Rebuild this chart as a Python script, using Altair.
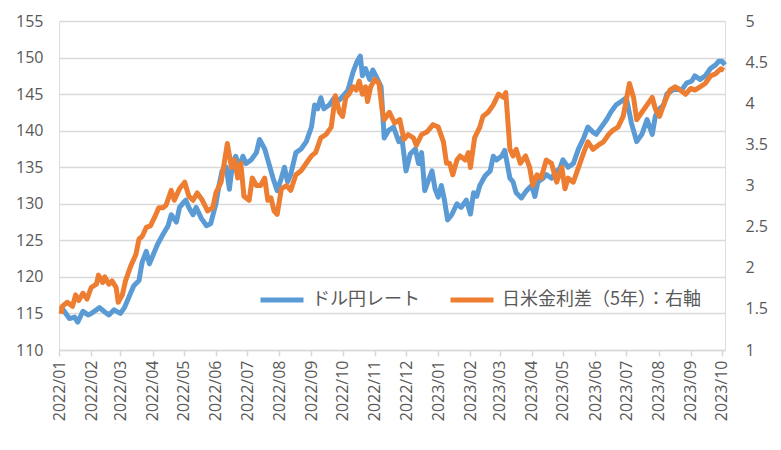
import altair as alt
import pandas as pd

series_names = ["ドル円レート", "日米金利差（5年）：右軸"]

usd_dates = [
    "2022-01-03", "2022-01-05", "2022-01-11", "2022-01-16", "2022-01-19", "2022-01-24", "2022-01-29",
    "2022-02-01", "2022-02-09", "2022-02-14", "2022-02-18", "2022-02-23", "2022-03-01", "2022-03-05",
    "2022-03-10", "2022-03-14", "2022-03-19", "2022-03-22", "2022-03-26", "2022-03-29", "2022-04-01",
    "2022-04-06", "2022-04-11", "2022-04-16", "2022-04-19", "2022-04-24", "2022-04-27", "2022-05-01",
    "2022-05-03", "2022-05-06", "2022-05-10", "2022-05-13", "2022-05-18", "2022-05-23", "2022-05-27",
    "2022-06-01", "2022-06-04", "2022-06-07", "2022-06-11", "2022-06-14", "2022-06-17", "2022-06-20",
    "2022-06-24", "2022-06-27", "2022-06-30", "2022-07-05", "2022-07-10", "2022-07-13", "2022-07-18",
    "2022-07-21", "2022-07-26", "2022-07-30", "2022-08-03", "2022-08-06", "2022-08-09", "2022-08-12",
    "2022-08-17", "2022-08-22", "2022-08-27", "2022-09-01", "2022-09-04", "2022-09-07", "2022-09-10",
    "2022-09-13", "2022-09-18", "2022-09-23", "2022-09-28", "2022-10-01", "2022-10-06", "2022-10-11",
    "2022-10-15", "2022-10-18", "2022-10-20", "2022-10-23", "2022-10-27", "2022-10-30", "2022-11-02",
    "2022-11-07", "2022-11-10", "2022-11-14", "2022-11-19", "2022-11-24", "2022-11-27", "2022-12-01",
    "2022-12-05", "2022-12-10", "2022-12-13", "2022-12-16", "2022-12-19", "2022-12-22", "2022-12-26",
    "2022-12-29", "2023-01-01", "2023-01-04", "2023-01-07", "2023-01-10", "2023-01-14", "2023-01-19",
    "2023-01-23", "2023-01-28", "2023-02-01", "2023-02-04", "2023-02-07", "2023-02-10", "2023-02-15",
    "2023-02-20", "2023-02-23", "2023-02-26", "2023-03-03", "2023-03-06", "2023-03-11", "2023-03-14",
    "2023-03-17", "2023-03-22", "2023-03-27", "2023-04-01", "2023-04-04", "2023-04-07", "2023-04-12",
    "2023-04-15", "2023-04-20", "2023-04-25", "2023-04-28", "2023-05-01", "2023-05-06", "2023-05-11",
    "2023-05-16", "2023-05-21", "2023-05-25", "2023-05-30", "2023-06-02", "2023-06-07", "2023-06-12",
    "2023-06-16", "2023-06-21", "2023-06-26", "2023-07-01", "2023-07-06", "2023-07-11", "2023-07-16",
    "2023-07-21", "2023-07-26", "2023-07-29", "2023-08-02", "2023-08-06", "2023-08-09", "2023-08-14",
    "2023-08-19", "2023-08-23", "2023-08-28", "2023-09-02", "2023-09-05", "2023-09-10", "2023-09-15",
    "2023-09-20", "2023-09-25", "2023-09-28", "2023-10-01", "2023-10-04",
]
usd_values = [
    116.0, 115.5, 114.3, 114.5, 113.8, 115.3, 114.8,
    115.0, 115.8, 115.2, 114.8, 115.5, 115.0, 115.8,
    117.5, 118.8, 119.5, 122.0, 123.5, 121.8, 122.8,
    124.5, 125.8, 127.0, 128.5, 127.5, 129.5, 130.2,
    130.5, 129.5, 128.5, 129.5, 128.0, 127.0, 127.3,
    130.0, 132.5, 134.5, 135.0, 132.0, 135.5, 136.5,
    135.0, 136.5, 135.5, 136.0, 137.0, 138.8, 137.5,
    136.0, 133.5, 131.8, 133.5, 135.0, 133.0, 134.0,
    137.0, 137.5, 138.5, 140.5, 143.5, 143.0, 144.5,
    143.0, 143.5, 144.5, 144.2, 144.7, 145.5, 148.0,
    149.5, 150.2, 147.5, 148.5, 147.0, 148.3, 147.5,
    146.0, 139.0, 140.0, 140.5, 138.5, 139.0, 134.5,
    136.8, 137.5, 135.5, 137.0, 131.8, 133.0, 134.5,
    132.0, 130.9, 132.5, 130.5, 127.8, 128.5, 130.0,
    129.5, 130.5, 128.6, 131.5, 131.0, 132.5, 133.8,
    134.5, 136.5, 136.0, 136.5, 137.3, 133.5, 133.0,
    131.5, 130.8, 131.8, 132.5, 131.0, 133.0, 133.5,
    134.0, 133.5, 134.5, 134.8, 136.0, 135.0, 135.5,
    137.5, 139.0, 140.5, 139.8, 139.5, 140.5, 141.5,
    142.5, 143.5, 144.0, 144.5, 141.0, 138.5, 139.5,
    141.5, 139.5, 142.0, 143.0, 143.5, 145.0, 145.5,
    145.8, 145.5, 146.5, 146.8, 147.5, 147.0, 147.5,
    148.5, 149.0, 149.5, 149.5, 149.0,
]

spread_dates = [
    "2022-01-03", "2022-01-04", "2022-01-09", "2022-01-14", "2022-01-17", "2022-01-20", "2022-01-24",
    "2022-01-28", "2022-02-01", "2022-02-06", "2022-02-08", "2022-02-12", "2022-02-14", "2022-02-18",
    "2022-02-21", "2022-02-25", "2022-02-27", "2022-03-03", "2022-03-06", "2022-03-11", "2022-03-16",
    "2022-03-19", "2022-03-22", "2022-03-26", "2022-03-30", "2022-04-04", "2022-04-07", "2022-04-11",
    "2022-04-14", "2022-04-19", "2022-04-22", "2022-04-27", "2022-05-02", "2022-05-06", "2022-05-10",
    "2022-05-14", "2022-05-19", "2022-05-24", "2022-05-29", "2022-06-01", "2022-06-06", "2022-06-09",
    "2022-06-12", "2022-06-16", "2022-06-19", "2022-06-22", "2022-06-25", "2022-06-28", "2022-07-03",
    "2022-07-06", "2022-07-10", "2022-07-14", "2022-07-18", "2022-07-21", "2022-07-24", "2022-07-27",
    "2022-07-30", "2022-08-03", "2022-08-08", "2022-08-12", "2022-08-17", "2022-08-22", "2022-08-27",
    "2022-09-01", "2022-09-05", "2022-09-10", "2022-09-15", "2022-09-20", "2022-09-24", "2022-09-28",
    "2022-10-01", "2022-10-04", "2022-10-07", "2022-10-11", "2022-10-14", "2022-10-17", "2022-10-20",
    "2022-10-23", "2022-10-25", "2022-10-28", "2022-11-01", "2022-11-05", "2022-11-08", "2022-11-10",
    "2022-11-15", "2022-11-20", "2022-11-25", "2022-11-29", "2022-12-03", "2022-12-08", "2022-12-11",
    "2022-12-16", "2022-12-21", "2022-12-27", "2023-01-01", "2023-01-06", "2023-01-09", "2023-01-12",
    "2023-01-15", "2023-01-19", "2023-01-22", "2023-01-27", "2023-01-30", "2023-02-01", "2023-02-05",
    "2023-02-10", "2023-02-13", "2023-02-18", "2023-02-23", "2023-02-28", "2023-03-05", "2023-03-07",
    "2023-03-11", "2023-03-14", "2023-03-17", "2023-03-21", "2023-03-26", "2023-03-30", "2023-04-02",
    "2023-04-06", "2023-04-10", "2023-04-15", "2023-04-20", "2023-04-25", "2023-04-30", "2023-05-03",
    "2023-05-06", "2023-05-11", "2023-05-16", "2023-05-21", "2023-05-25", "2023-05-30", "2023-06-04",
    "2023-06-09", "2023-06-14", "2023-06-18", "2023-06-23", "2023-06-28", "2023-07-04", "2023-07-08",
    "2023-07-11", "2023-07-16", "2023-07-21", "2023-07-26", "2023-07-29", "2023-08-02", "2023-08-07",
    "2023-08-12", "2023-08-17", "2023-08-22", "2023-08-27", "2023-09-01", "2023-09-05", "2023-09-10",
    "2023-09-15", "2023-09-20", "2023-09-25", "2023-09-30", "2023-10-03",
]
spread_values = [
    1.44, 1.53, 1.58, 1.53, 1.67, 1.60, 1.69,
    1.62, 1.76, 1.80, 1.91, 1.82, 1.89, 1.80,
    1.84, 1.76, 1.58, 1.67, 1.84, 2.02, 2.16,
    2.35, 2.38, 2.49, 2.51, 2.64, 2.73, 2.73,
    2.76, 2.94, 2.82, 2.96, 3.04, 2.87, 2.82,
    2.91, 2.82, 2.69, 2.73, 2.91, 3.04, 3.27,
    3.51, 3.22, 3.31, 3.09, 3.27, 2.87, 2.82,
    3.09, 3.00, 3.00, 3.09, 2.82, 2.85, 2.69,
    2.65, 2.96, 3.00, 2.94, 3.13, 3.18, 3.27,
    3.36, 3.40, 3.58, 3.62, 3.71, 4.09, 3.89,
    3.84, 4.07, 4.11, 4.20, 4.16, 4.27, 4.11,
    4.20, 4.02, 4.20, 4.29, 4.24, 3.92, 3.80,
    3.89, 3.76, 3.80, 3.56, 3.62, 3.58, 3.49,
    3.62, 3.65, 3.74, 3.71, 3.53, 3.27, 3.27,
    3.13, 3.31, 3.36, 3.31, 3.40, 3.22, 3.58,
    3.71, 3.84, 3.89, 3.98, 4.11, 4.07, 4.13,
    3.44, 3.36, 3.44, 3.27, 3.36, 3.22, 3.00,
    3.13, 3.09, 3.31, 3.27, 3.04, 3.22, 2.96,
    3.09, 3.04, 3.22, 3.40, 3.53, 3.44, 3.49,
    3.53, 3.62, 3.67, 3.71, 3.84, 4.24, 4.07,
    3.80, 3.89, 3.98, 4.07, 3.93, 3.84, 4.02,
    4.16, 4.20, 4.16, 4.11, 4.18, 4.16, 4.20,
    4.24, 4.33, 4.36, 4.42, 4.40,
]

usd_df = pd.DataFrame({"date": pd.to_datetime(usd_dates), "value": usd_values, "series": series_names[0]})
spread_df = pd.DataFrame({"date": pd.to_datetime(spread_dates), "value": spread_values, "series": series_names[1]})

JP_FONT = "Noto Sans CJK JP"
NUM_FONT = "Open Sans"
TXT = "#595959"
GRID = "#d9d9d9"

x_enc = alt.X(
    "date:T",
    scale=alt.Scale(domain=["2022-01-01T00:00:00", "2023-10-04T00:00:00"], nice=False),
    axis=alt.Axis(
        title=None,
        format="%Y/%m",
        tickCount={"interval": "month", "step": 1},
        labelAngle=270,
        labelFontSize=16,
        labelColor=TXT,
        labelFont=NUM_FONT,
        labelPadding=4,
        grid=False,
        domainColor=GRID,
        domainWidth=1.5,
        tickColor=GRID,
        tickWidth=1.5,
        tickSize=6,
        labelOverlap=False,
    ),
)

color_enc = alt.Color(
    "series:N",
    scale=alt.Scale(domain=series_names, range=["#5b9bd5", "#ed7d31"]),
    legend=alt.Legend(
        title=None,
        orient="none",
        legendX=199,
        legendY=255,
        direction="horizontal",
        symbolType="stroke",
        symbolSize=1849,
        symbolStrokeWidth=5,
        labelFontSize=18,
        labelColor=TXT,
        labelFont=JP_FONT,
        labelOffset=6,
        columnPadding=20,
        labelLimit=400,
    ),
)

left = alt.Chart(usd_df).mark_line(strokeWidth=5, strokeJoin="round").encode(
    x=x_enc,
    y=alt.Y(
        "value:Q",
        scale=alt.Scale(domain=[110, 155], nice=False, zero=False),
        axis=alt.Axis(
            title=None,
            values=[110, 115, 120, 125, 130, 135, 140, 145, 150, 155],
            labelFontSize=16,
            labelColor=TXT,
            labelFont=NUM_FONT,
            labelPadding=16,
            ticks=False,
            domain=False,
            grid=True,
            gridColor=GRID,
            gridWidth=1.5,
        ),
    ),
    color=color_enc,
)

right = alt.Chart(spread_df).mark_line(strokeWidth=5, strokeJoin="round").encode(
    x=x_enc,
    y=alt.Y(
        "value:Q",
        scale=alt.Scale(domain=[1, 5], nice=False, zero=False),
        axis=alt.Axis(
            title=None,
            orient="right",
            values=[1, 1.5, 2, 2.5, 3, 3.5, 4, 4.5, 5],
            format=".1~f",
            labelFontSize=16,
            labelColor=TXT,
            labelFont=NUM_FONT,
            labelPadding=20,
            ticks=False,
            domain=False,
            grid=False,
        ),
    ),
    color=color_enc,
)

chart = (
    alt.layer(left, right)
    .resolve_scale(y="independent")
    .properties(width=666, height=329, padding={"left": 7, "top": 5, "right": 0, "bottom": 5})
    .configure_view(stroke=None)
    .configure(font=JP_FONT)
)

chart.save("out.html", embed_options={"renderer": "svg", "actions": False})
